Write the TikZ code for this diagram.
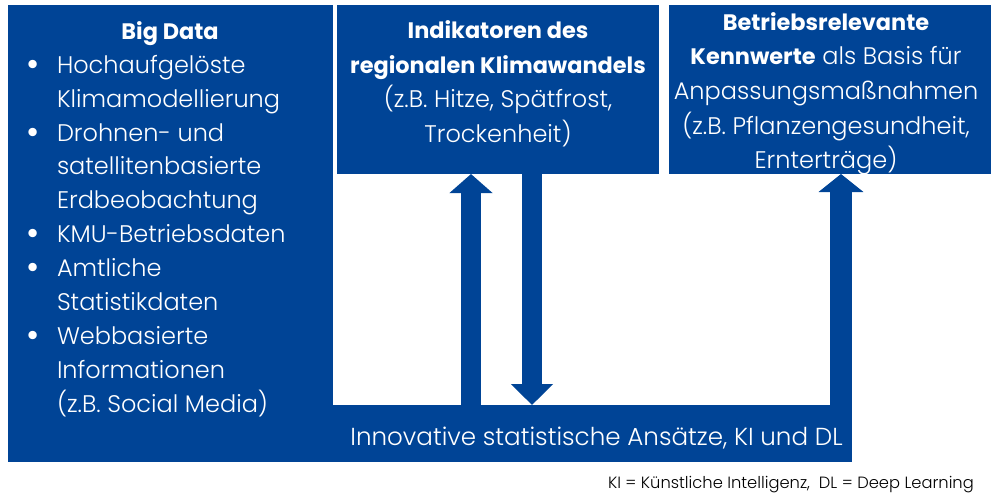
\documentclass[tikz,border=0pt]{standalone}
\usepackage{fontspec}
\setmainfont{Poppins}[UprightFont=* Light, BoldFont=* Bold]
\usetikzlibrary{arrows.meta}
\definecolor{kblue}{RGB}{0,68,150}
\begin{document}
\begin{tikzpicture}[x=1pt,y=-1pt,
  box/.style={rectangle, fill=kblue, draw=none, inner sep=0pt, outer sep=0pt},
  wt/.style={text=white, inner sep=0pt, outer sep=0pt, font=\fontsize{24}{28}\selectfont},
  bul/.style={text=white, inner sep=0pt, font=\fontsize{36}{40}\selectfont},
  bt/.style={wt, font=\fontsize{22.4}{28}\selectfont\bfseries},
  arr/.style={draw=kblue, line width=20pt, -{Triangle[width=42pt,length=19pt,fill=kblue]}}]
\useasboundingbox (0,0) rectangle (1000,499);
% boxes
\node[box, minimum width=325, minimum height=457, anchor=north west] (big) at (8,5) {};
\node[box, minimum width=521, minimum height=57, anchor=north west] (bar) at (331,405) {};
\node[box, minimum width=322, minimum height=169, anchor=north west] (ind) at (337,5) {};
\node[box, minimum width=322, minimum height=169, anchor=north west] (kw) at (669,5) {};
% connectors
\coordinate (ux) at (471,0);
\coordinate (dx) at (532,0);
\coordinate (rx) at (841,0);
\draw[arr] (bar.center -| ux) -- (ind.south -| ux);
\draw[arr, -{Triangle[width=41pt,length=21pt,fill=kblue]}] (ind.center -| dx) -- (bar.north -| dx);
\draw[arr, line width=22pt, -{Triangle[width=44pt,length=18pt,fill=kblue]}] (bar.center -| rx) -- (kw.south -| rx);
% left texts
\node[bt, anchor=base] (b0) at (170,39) {Big Data};
\node[wt, anchor=base west] (b1) at (57,73) {Hochaufgelöste};
\node[wt, anchor=base west] (b2) at (57,107) {Klimamodellierung};
\node[wt, anchor=base west] (b3) at (57,141) {Drohnen- und};
\node[wt, anchor=base west] (b4) at (57,174) {satellitenbasierte};
\node[wt, anchor=base west] (b5) at (57,208) {Erdbeobachtung};
\node[wt, anchor=base west] (b6) at (57,242) {KMU-Betriebsdaten};
\node[wt, anchor=base west] (b7) at (57,276) {Amtliche};
\node[wt, anchor=base west] (b8) at (57,310) {Statistikdaten};
\node[wt, anchor=base west] (b9) at (57,344) {Webbasierte};
\node[wt, anchor=base west] (b10) at (57,378) {Informationen};
\node[wt, anchor=base west] (b11) at (57,412) {(z.B. Social Media)};
\node[bul, anchor=base] (u1) at (33,76) {•};
\node[bul, anchor=base] (u2) at (33,144) {•};
\node[bul, anchor=base] (u3) at (33,245) {•};
\node[bul, anchor=base] (u4) at (33,279) {•};
\node[bul, anchor=base] (u5) at (33,347) {•};
% middle texts
\node[bt, anchor=base] (m1) at (498,38.5) {Indikatoren des};
\node[bt, anchor=base] (m2) at (498,73) {regionalen Klimawandels};
\node[wt, anchor=base] (m3) at (498,107.5) {(z.B. Hitze, Spätfrost,};
\node[wt, anchor=base] (m4) at (498,142) {Trockenheit)};
% right texts
\node[bt, anchor=base] (r1) at (826,30) {Betriebsrelevante};
\node[wt, anchor=base] (r2) at (826,64) {{\fontsize{22.4}{28}\selectfont\bfseries Kennwerte} als Basis für};
\node[wt, anchor=base] (r3) at (826,99) {Anpassungsmaßnahmen};
\node[wt, anchor=base] (r4) at (826,134) {(z.B. Pflanzengesundheit,};
\node[wt, anchor=base] (r5) at (826,168) {Ernterträge)};
% bottom text
\node[wt, anchor=base, font=\fontsize{24.6}{28}\selectfont] (bt) at (596.5,445) {Innovative statistische Ansätze, KI und DL};
% footnote
\node[anchor=base east, inner sep=0pt, text=black, font=\fontsize{16.3}{20}\selectfont] (fn) at (974,488) {KI = Künstliche Intelligenz,~~DL = Deep Learning};
\end{tikzpicture}
\end{document}
